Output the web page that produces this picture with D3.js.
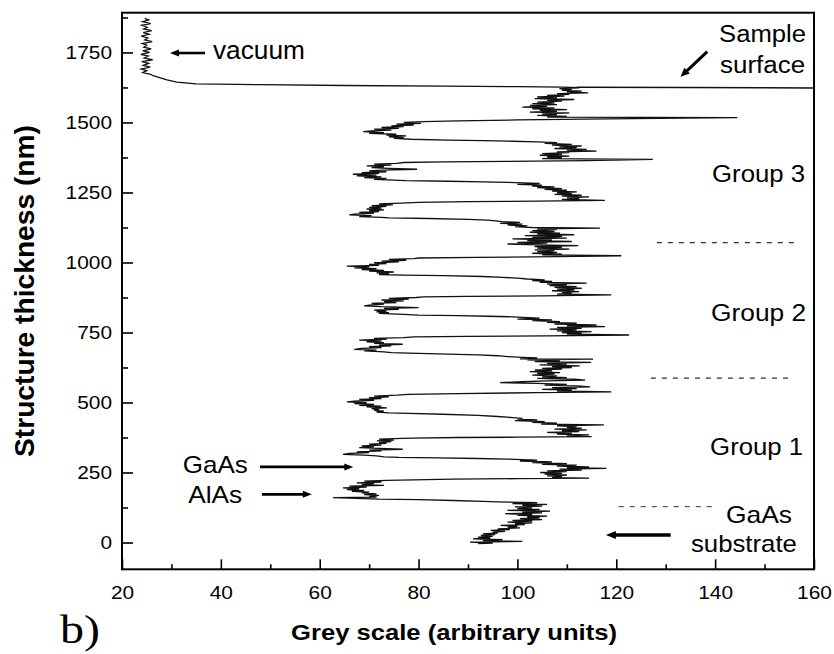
<!DOCTYPE html>
<html>
<head>
<meta charset="utf-8">
<script src="https://cdn.jsdelivr.net/npm/d3@7"></script>
<style>
  html, body { margin: 0; padding: 0; background: #fff; }
  svg { display: block; }
  text { fill: #000; }
</style>
</head>
<body>
<svg id="chart" width="834" height="654"></svg>
<script>
// Grey-scale depth profile, each point is [thickness (nm), grey value].
const vacuumProfile = [
  [1872,24.6],[1866,25.4],[1860,24.2],[1853,25.8],[1847,24.0],[1840,25.1],[1834,24.4],[1828,26.0],
  [1821,24.3],[1815,25.5],[1808,23.9],[1802,25.2],[1795,24.6],[1789,26.1],[1782,24.1],[1776,25.0],
  [1769,24.4],[1763,25.9],[1756,24.2],[1750,25.6],[1743,23.8],[1737,25.3],[1730,24.5],[1724,26.2],
  [1717,24.0],[1711,25.4],[1704,24.3],[1698,25.7],[1691,23.9],[1685,25.0],[1678,24.2],[1672,25.8],
  [1667,26.3],[1663,27.1],[1652,29.1],[1644,31.1],[1638,35],[1635,48],[1632,65],[1630,85],[1628,100]
];

const group3Profile = [
  [1626,109],[1624,112.5],[1621,108.5],[1618,111],[1615,109],[1612,113],[1609,110],[1606,114.3],
  [1603,108],[1600,110.5],[1597,106],[1594,109.5],[1591,104],[1588,108],[1585,103.5],[1582,111.5],
  [1579,106],[1576,109],[1573,104],[1570,107.5],[1567,103],[1564,108],[1561,102.5],[1558,106],
  [1555,101],[1552,107.5],[1549,103],[1546,110],[1543,104.5],[1540,108],[1537,102.5],[1534,110.5],
  [1531,105],[1528,108],[1525,104],[1522,110],[1519,106],[1517,144.5],[1513,118],[1509,100],
  [1506,88],[1503,81],
  [1500,77],[1497,80.5],[1494,75.5],[1491,79],[1488,74.5],[1485,77],[1482,72.5],[1479,76],
  [1476,71],[1473,74.5],[1470,70.5],[1467,68.8],[1464,73],[1461,70],[1458,75.5],[1455,73.5],
  [1452,77.5],[1449,74],[1446,77],[1443,75],[1440,78.5],
  [1437,86],[1435,93],[1433,99],[1431,104],
  [1428,108],[1425,105.5],[1422,111],[1419,107],[1416,113],[1413,108.5],[1410,112],[1407,107.5],
  [1404,114],[1401,110],[1398,116],[1395,108],[1392,110.5],[1389,105],[1386,109],[1383,104.5],
  [1380,110.5],[1377,106],[1374,109],[1371,105],[1368,127.4],[1364,114],[1361,98],[1359,85],[1357,77],
  [1354,75.5],[1351,71],[1348,74.5],[1345,69.5],[1342,73],[1339,70.5],[1336,74],[1333,79.7],
  [1330,72.5],[1327,70],[1324,73.5],[1321,68.5],[1318,72],[1315,66.7],[1312,71.5],[1309,67.5],
  [1306,72.5],[1303,69],[1300,73.5],[1297,71],[1294,75],[1292,77.5],
  [1290,86],[1288,93],[1286,98],[1284,101],
  [1282,104.5],[1279,100],[1276,105],[1273,103],[1270,107.5],[1267,104],[1264,109],[1261,105.5],
  [1258,110],[1255,107],[1252,112],[1249,108],[1246,111],[1243,107.5],[1240,113],[1237,109],
  [1234,114.5],[1231,110],[1228,112.5],[1225,109],[1222,117.7],[1219,104],[1217,90],[1215,80],
  [1212,76.5],[1209,72],[1206,74.8],[1203,70.5],[1200,73.5],[1197,70],[1194,72.5],[1191,69.5],
  [1188,73],[1185,70],[1182,72],[1179,68],[1176,71],[1173,67],[1170,66],[1167,70.5],[1164,68],
  [1161,72.5],[1159,74],
  [1157,82],[1154,90],[1151,94],[1148,96],
  [1146,97],[1143,100.5],[1140,96.5],[1137,101],[1134,98],[1131,102],[1128,99.5],[1125,103],
  [1123,116.7],[1120,104],[1117,108],[1114,103],[1111,107.5],[1108,102.5],[1105,108.6],[1102,104],
  [1099,111.5],[1096,101.5],[1093,109],[1090,103],[1087,110],[1084,99],[1081,107],[1078,102],
  [1075,111],[1072,100]
];

const group2Profile = [
  [1069,106],[1066,98],[1063,104],[1060,112.3],[1057,103.5],[1054,109],[1051,104],[1048,110.5],
  [1045,103.5],[1042,107.5],[1039,104],[1036,108],[1033,103],[1030,109],[1027,105],[1024,121],
  [1021,108],[1018,92],[1016,80],
  [1014,79],[1011,74],[1008,77.5],[1005,72.5],[1002,76],[999,71],[996,73.5],[993,70],[990,72],
  [987,65.5],[984,70],[981,67],[978,71.5],[975,68.5],[972,73],[969,70],[966,75],[963,71.5],
  [960,74],[957,72],[955,77],
  [953,85],[950,93],[947,97],[944,100],
  [941,102],[938,105.5],[935,103],[932,107],[929,104.5],[926,114],[923,106],[920,110],[917,106.5],
  [914,112],[911,107.5],[908,113],[905,108],[902,111.5],[899,107],[896,112.5],[893,109],[890,111],
  [887,108],[884,119],[881,105],[879,90],[877,81],
  [875,79.5],[872,74],[869,78],[866,72.5],[863,77],[860,73],[857,75.5],[854,70.5],[851,73],
  [848,70],[845,69],[842,72.5],[839,80],[836,73],[833,76],[830,71],[827,73.5],[824,71.5],
  [821,74],[818,72],[815,77],[812,80],
  [810,88],[808,94],[806,99],
  [804,101],[801,104.5],[798,100],[795,107],[792,103],[789,108.6],[786,106],[783,112],[780,107.5],
  [777,116],[774,110],[771,117.7],[768,108],[765,113],[762,106.5],[759,112],[756,108],[753,115],
  [750,109],[747,113],[744,110],[741,122.6],[738,106],[736,90],[734,79],
  [732,77],[729,71],[726,73.6],[723,68],[720,72.5],[717,69.5],[714,73],[711,71],[708,76.8],
  [705,72],[702,74.5],[699,70],[696,72.5],[693,68.5],[690,67],[687,71.5],[684,69],[681,73],
  [678,74.5],[676,78],
  [673,86],[670,92],[667,96],[664,98],[661,101],
  [659,104],[656,100.5],[655,115.3],[652,102],[649,108.6],[646,103.5],[643,114.9],[640,106],
  [637,110],[634,104.5],[631,112.6],[628,107],[625,111],[622,105],[619,109],[616,103.5],
  [613,107],[610,102.5],[607,108.6],[604,104],[601,107.5],[598,103],[595,108],[592,105],[589,110]
];

const group1Profile = [
  [586,104],[583,111.5],[580,113.7],[577,106],[574,101],[571,96.5],[568,104],[565,110],[562,105.5],
  [559,112],[556,114.7],[553,107],[550,112],[547,105],[544,111],[541,108],[538,119],[535,104],
  [532,88],[529,78],
  [526,75.6],[523,71],[520,74],[517,70],[514,72.5],[511,68],[508,71],[505,67],[502,65.5],
  [499,69.5],[496,67],[493,71],[490,68],[487,72.5],[484,69.5],[481,73.6],[478,70.5],[475,72],
  [472,71],[469,73],[466,71.5],[463,74],[461,78],
  [458,85],[454,92],[450,96],[446,99],[443,101],
  [441,100],[438,104],[435,99.5],[432,105.5],[429,103],[426,108],[423,104.8],[420,117.5],[417,108],
  [414,112],[411,110],[408,113],[405,107.5],[402,114],[399,109],[396,112.5],[393,106],[390,111],
  [387,108],[384,114.5],[381,110],[378,115],[376,100],[375,88],[373,79],
  [372,76.8],[369,72],[366,75],[363,71.6],[360,74.5],[357,72],[354,73.5],[351,70],[348,72.5],
  [345,68.5],[342,71],[339,68],[336,72],[333,76.8],[330,70],[327,72.5],[324,67.5],[321,70],
  [318,66],[315,64.7],[312,69],[309,71.5],[306,73],[304,76],
  [302,84],[300,92],[298,98],[296,101],
  [294,104],[291,100.5],[288,107],[285,103],[282,110],[279,105],[276,112],[273,108],[270,114.5],
  [267,110],[265,118],[262,108.5],[259,113],[256,106],[253,110],[250,104.6],[247,109],[244,105.5],
  [241,110],[238,106],[235,109],[232,107],[230,114.5],[228,100],[226,87],[224,79],
  [222,73.6],[219,69],[216,72.5],[213,67.5],[210,71],[207,68.5],[204,73],[201,66],[198,69.5],
  [195,64.7],[192,68],[189,65.5],[186,69],[183,66.5],[180,70],[177,68.5],[174,71.5],[171,69],
  [168,72],[165,70],[162,71.5],[160,62.7],[157,69],[155,72],
  [153,80],[150,87],[147,93],[145,96],
  [142,104],[139,99],[136,106],[133,101],[130,105]
];

const substrateProfile = [
  [127,99.5],[124,103],[121,100],[118,104.5],[115,98],[112,106.6],[109,101],[106,105],[103,97.5],
  [100,103],[97,100],[94,106],[91,102],[88,104.5],[85,100.5],[82,105],[79,99],[76,103],[73,98],
  [70,103],[67,99.5],[64,101.5],[61,96.6],[58,100],[55,98],[52,100.5],[49,96],[46,98.5],[43,94.6],
  [40,97.5],[37,95],[34,96],[31,93],[28,95.5],[25,92.6],[22,95],[19,92],[16,94.5],[13,91],[10,97],
  [7,93],[4,101],[1,90.4],[-2,95],[-4,92]
];

// Sample surface line, continuing to the right frame.
const surfaceLine = [[112,1626],[134,1625],[160,1623]];

// Axis ticks
const xTicks = [20, 40, 60, 80, 100, 120, 140, 160];
const xMinorTicks = [30, 50, 70, 90, 110, 130, 150];
const yTicks = [0, 250, 500, 750, 1000, 1250, 1500, 1750];
const yMinorTicks = [125, 375, 625, 875, 1125, 1375, 1625, 1875];

// Dashed separators between layer groups: grey range and thickness.
const groupBoundaries = [
  { from: 128.2, to: 156.4, at: 1071, width: 1.3 },
  { from: 127.0, to: 155.5, at: 587, width: 1.3 },
  { from: 120.5, to: 139.8, at: 128, width: 1.0 }
];

// Labels, positioned in data units (grey, thickness of baseline).
const labels = [
  { text: "vacuum",    x: 38.4,  y: 1727, size: 25, len: 92, anchor: "start" },
  { text: "Sample",    x: 158.4, y: 1789, size: 23, len: 87, anchor: "end" },
  { text: "surface",   x: 158.2, y: 1676, size: 23, len: 85, anchor: "end" },
  { text: "Group 3",   x: 158.2, y: 1288, size: 23, len: 93, anchor: "end" },
  { text: "Group 2",   x: 158.4, y: 792,  size: 23, len: 95, anchor: "end" },
  { text: "Group 1",   x: 157.8, y: 313,  size: 23, len: 93, anchor: "end" },
  { text: "GaAs",      x: 142.2, y: 69,   size: 24, len: 66, anchor: "start" },
  { text: "substrate", x: 135.1, y: -34,  size: 24, len: 106, anchor: "start" },
  { text: "GaAs",      x: 32.3,  y: 248,  size: 24, len: 65, anchor: "start" },
  { text: "AlAs",      x: 33.4,  y: 141,  size: 24, len: 54, anchor: "start" }
];

// Arrows: tail -> head, in data units.
const arrows = [
  { from: [36.8, 1748],  to: [29.7, 1748],  width: 2.6, head: 9,  half: 3.5 },
  { from: [138.4, 1753], to: [133.0, 1663], width: 3.0, head: 9,  half: 4 },
  { from: [47.9, 270],   to: [66.8, 270],   width: 2.8, head: 9,  half: 3.5 },
  { from: [48.3, 172],   to: [58.4, 172],   width: 2.8, head: 9,  half: 3.5 },
  { from: [131.0, 27],   to: [117.9, 27],   width: 3.4, head: 10, half: 4 }
];

const svg = d3.select("#chart");
const plotLeft = 122, plotRight = 814, plotTop = 12.7, plotBottom = 569.3;

const x = d3.scaleLinear().domain([20, 160]).range([plotLeft, plotRight]);
const y = d3.scaleLinear().domain([-95.7, 1892]).range([plotBottom, plotTop]);

svg.append("defs").append("clipPath").attr("id", "plotClip")
  .append("rect")
  .attr("x", plotLeft).attr("y", plotTop)
  .attr("width", plotRight - plotLeft).attr("height", plotBottom - plotTop);

const tickFont = "'Liberation Sans', Arial, sans-serif";

// Axes (ticks point inward)
const yAxis = svg.append("g")
  .attr("transform", `translate(${plotLeft},0)`)
  .call(d3.axisLeft(y).tickValues(yTicks).tickSizeInner(-11).tickSizeOuter(0).tickPadding(10)
    .tickFormat(d3.format("d")));
const yMinor = svg.append("g")
  .attr("transform", `translate(${plotLeft},0)`)
  .call(d3.axisLeft(y).tickValues(yMinorTicks).tickSizeInner(-6).tickSizeOuter(0).tickFormat(""));
const xAxis = svg.append("g")
  .attr("transform", `translate(0,${plotBottom})`)
  .call(d3.axisBottom(x).tickValues(xTicks).tickSizeInner(-10).tickSizeOuter(0).tickPadding(16));
const xMinor = svg.append("g")
  .attr("transform", `translate(0,${plotBottom})`)
  .call(d3.axisBottom(x).tickValues(xMinorTicks).tickSizeInner(-5).tickSizeOuter(0).tickFormat(""));

[yAxis, yMinor, xAxis, xMinor].forEach(g => {
  g.select(".domain").remove();
  g.selectAll(".tick line").attr("stroke", "#000").attr("stroke-width", 1.6);
  g.selectAll("text")
    .attr("fill", "#000")
    .style("font-family", tickFont)
    .style("font-size", "19px")
    .attr("textLength", function () { return this.textContent.length * 11.6; })
    .attr("lengthAdjust", "spacingAndGlyphs");
});

// Frame
svg.append("rect")
  .attr("x", plotLeft).attr("y", plotTop)
  .attr("width", plotRight - plotLeft).attr("height", plotBottom - plotTop)
  .attr("fill", "none").attr("stroke", "#000").attr("stroke-width", 2);

// Profile trace
const profile = [].concat(vacuumProfile, group3Profile, group2Profile, group1Profile, substrateProfile);
const line = d3.line().x(d => x(d[1])).y(d => y(d[0]));

const plot = svg.append("g").attr("clip-path", "url(#plotClip)");
plot.append("path")
  .datum(profile)
  .attr("d", line)
  .attr("fill", "none")
  .attr("stroke", "#111")
  .attr("stroke-width", 1.3)
  .attr("stroke-linejoin", "miter");

plot.append("path")
  .datum(surfaceLine)
  .attr("d", d3.line().x(d => x(d[0])).y(d => y(d[1])))
  .attr("fill", "none")
  .attr("stroke", "#111")
  .attr("stroke-width", 1.6);

// Group separators
plot.selectAll("line.sep")
  .data(groupBoundaries)
  .join("line")
  .attr("class", "sep")
  .attr("x1", d => x(d.from)).attr("x2", d => x(d.to))
  .attr("y1", d => y(d.at)).attr("y2", d => y(d.at))
  .attr("stroke", "#333")
  .attr("stroke-width", d => d.width)
  .attr("stroke-dasharray", "5,6");

// Arrows
arrows.forEach(a => {
  const x1 = x(a.from[0]), y1 = y(a.from[1]);
  const x2 = x(a.to[0]), y2 = y(a.to[1]);
  const dx = x2 - x1, dy = y2 - y1;
  const L = Math.hypot(dx, dy);
  const ux = dx / L, uy = dy / L;
  const bx = x2 - ux * a.head, by = y2 - uy * a.head;
  svg.append("line")
    .attr("x1", x1).attr("y1", y1).attr("x2", bx + ux).attr("y2", by + uy)
    .attr("stroke", "#000").attr("stroke-width", a.width);
  svg.append("path")
    .attr("d", `M${x2},${y2}L${bx - uy * a.half},${by + ux * a.half}L${bx + uy * a.half},${by - ux * a.half}Z`)
    .attr("fill", "#000");
});

// Annotation labels
svg.selectAll("text.note")
  .data(labels)
  .join("text")
  .attr("class", "note")
  .attr("x", d => d.anchor === "end" ? x(d.x) - d.len : x(d.x))
  .attr("y", d => y(d.y))
  .attr("textLength", d => d.len)
  .attr("lengthAdjust", "spacingAndGlyphs")
  .style("font-family", tickFont)
  .style("font-size", d => d.size + "px")
  .text(d => d.text);

// Axis titles
svg.append("text")
  .attr("transform", `translate(34,291) rotate(-90)`)
  .attr("text-anchor", "middle")
  .attr("textLength", 332)
  .attr("lengthAdjust", "spacingAndGlyphs")
  .style("font-family", tickFont)
  .style("font-weight", "bold")
  .style("font-size", "27px")
  .text("Structure thickness (nm)");

svg.append("text")
  .attr("x", 454).attr("y", 640)
  .attr("text-anchor", "middle")
  .attr("textLength", 326)
  .attr("lengthAdjust", "spacingAndGlyphs")
  .style("font-family", tickFont)
  .style("font-weight", "bold")
  .style("font-size", "22px")
  .text("Grey scale (arbitrary units)");

svg.append("text")
  .attr("x", 60).attr("y", 643)
  .attr("textLength", 40)
  .attr("lengthAdjust", "spacingAndGlyphs")
  .style("font-family", "'Liberation Serif', 'Times New Roman', serif")
  .style("font-size", "40px")
  .text("b)");
</script>
</body>
</html>
